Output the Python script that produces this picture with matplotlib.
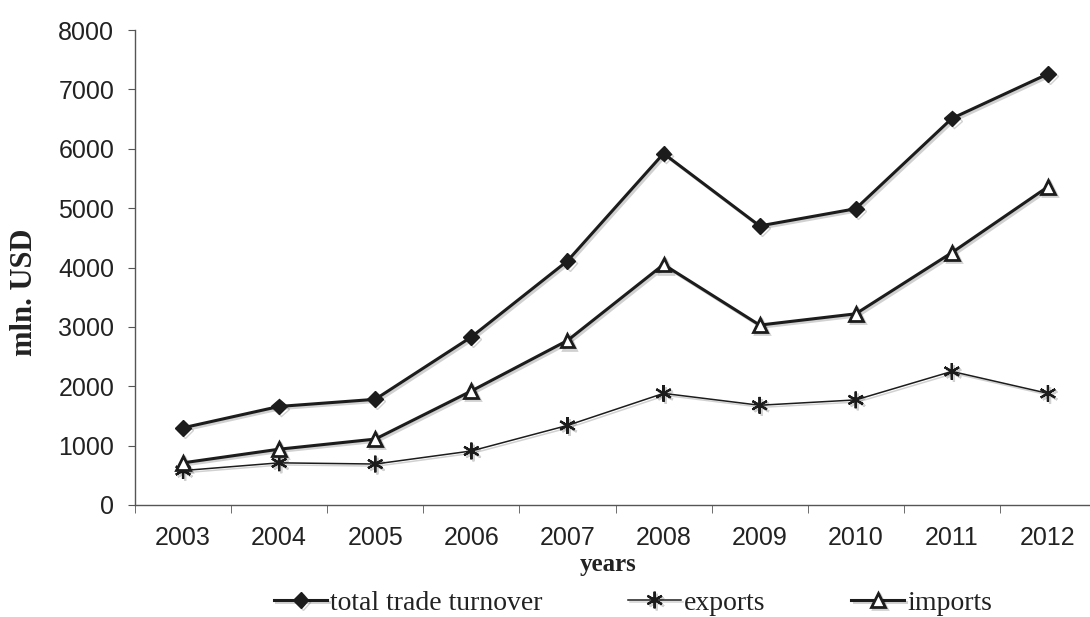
import numpy as np
import matplotlib
matplotlib.use("Agg")
import matplotlib.pyplot as plt
import matplotlib.patheffects as pe
from matplotlib.ticker import FixedLocator

# data
years = ["2003", "2004", "2005", "2006", "2007", "2008", "2009", "2010", "2011", "2012"]
total = [1300, 1660, 1780, 2830, 4110, 5920, 4700, 4990, 6510, 7260]
exports = [580, 710, 690, 910, 1340, 1880, 1680, 1770, 2250, 1880]
imports = [710, 940, 1110, 1920, 2770, 4050, 3030, 3220, 4250, 5360]

serif = "Liberation Serif"
sans = "Liberation Sans"
ink = "#1c1c1c"

fig = plt.figure(figsize=(10.9, 6.17), dpi=100)
ax = fig.add_axes([135/1090, 112/617, 961/1090, 475/617])

x = np.arange(len(years))
shadow = [pe.SimpleLineShadow(offset=(1.5, -1.5), alpha=0.18, shadow_color="k"), pe.Normal()]

ax.plot(x, total, color=ink, lw=2.2, marker="D", ms=8, mfc=ink, mec=ink,
        label="total trade turnover", path_effects=shadow, zorder=3)
ax.plot(x, exports, color=ink, lw=1.1, marker=(6, 2, 0), ms=12, mec=ink, mew=1.6,
        label="exports", path_effects=shadow, zorder=3)
ax.plot(x, imports, color=ink, lw=2.2, marker="^", ms=10, mfc="white", mec=ink, mew=2.0,
        label="imports", path_effects=shadow, zorder=4)

ax.set_xlim(-0.5, 9.5)
ax.set_ylim(0, 8000)
ax.set_yticks(np.arange(0, 8001, 1000))
ax.set_xticks(x)
ax.set_xticklabels(years)
ax.xaxis.set_minor_locator(FixedLocator(np.arange(-0.5, 10, 1)))

for s in ["top", "right"]:
    ax.spines[s].set_visible(False)
for s in ["left", "bottom"]:
    ax.spines[s].set_color("#555555")
    ax.spines[s].set_linewidth(1.0)

ax.tick_params(axis="x", which="major", length=0, pad=15, labelsize=18, labelcolor="#222222")
ax.tick_params(axis="x", which="minor", length=6, color="#555555", direction="out")
ax.tick_params(axis="y", length=5, color="#555555", pad=10, labelsize=18, labelcolor="#222222")
for lab in ax.get_xticklabels() + ax.get_yticklabels():
    lab.set_family(sans)

fig.text(25/1090, 1 - 292/617, "mln. USD", rotation=90, ha="center", va="center",
         family=serif, fontweight="bold", fontsize=22, color="#222222")
fig.text(608/1090, 1 - 564/617, "years", ha="center", va="center",
         family=serif, fontweight="bold", fontsize=18, color="#222222")

leg = fig.legend(loc="center", bbox_to_anchor=(633/1090, 1 - 603/617), ncol=3,
                 frameon=False, prop={"family": serif, "size": 20},
                 handlelength=1.9, handletextpad=0.1, columnspacing=3.1)
for t in leg.get_texts():
    t.set_color("#222222")

fig.savefig("out.png", dpi=100)
